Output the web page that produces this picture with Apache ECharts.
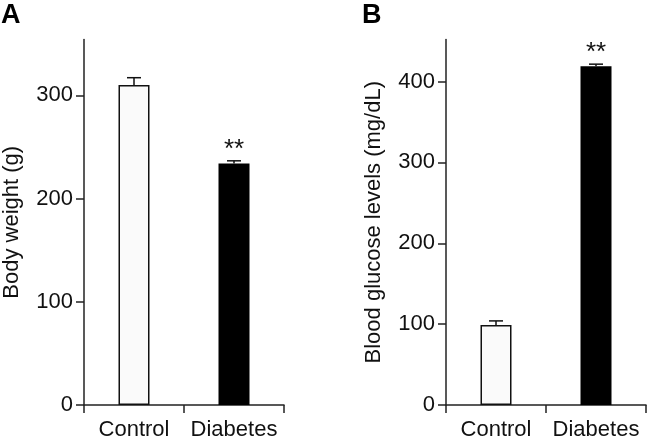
<!DOCTYPE html>
<html>
<head>
<meta charset="utf-8">
<script src="https://cdn.jsdelivr.net/npm/echarts@6/dist/echarts.min.js"></script>
<style>
html,body{margin:0;padding:0;background:#fff;}
#c{width:647px;height:438px;}
</style>
</head>
<body>
<div id="c"></div>
<script>
const categories = ['Control', 'Diabetes'];
const weightMeans = [310, 234];
const weightErrs = [7, 2.5];
const glucoseMeans = [99, 419];
const glucoseErrs = [5, 2.5];
const sigMarks = ['', '**'];
const weightTicks = {min: 0, max: 354, interval: 100};
const glucoseTicks = {min: 0, max: 452, interval: 100};

const FONT = 'Liberation Sans, Arial, sans-serif';
const TXT = '#111';

function xAxisDef(gi) {
  return {
    type: 'category', gridIndex: gi, data: categories, boundaryGap: true,
    axisLine: {show: true, lineStyle: {color: '#222', width: 1.5}},
    axisTick: {show: true, length: 8, lineStyle: {color: '#222', width: 1.5}},
    axisLabel: {color: TXT, fontSize: 22, fontFamily: FONT, margin: 14, interval: 0}
  };
}
function yAxisDef(gi, t, name) {
  return {
    type: 'value', gridIndex: gi, min: t.min, max: t.max, interval: t.interval,
    name: name, nameLocation: 'middle', nameGap: 61,
    nameTextStyle: {color: TXT, fontSize: 22, fontFamily: FONT},
    axisLine: {show: true, lineStyle: {color: '#222', width: 1.5}},
    axisTick: {show: true, length: 8, lineStyle: {color: '#222', width: 1.5}},
    splitLine: {show: false},
    axisLabel: {color: TXT, fontSize: 22, fontFamily: FONT, margin: 11, showMaxLabel: false}
  };
}
function barSeries(gi, vals) {
  return {
    type: 'bar', xAxisIndex: gi, yAxisIndex: gi, barWidth: '31%',
    data: vals.map((v, i) => ({
      value: v,
      itemStyle: i === 0
        ? {color: '#fafafa', borderColor: '#111', borderWidth: 1.5}
        : {color: '#000', borderColor: '#000', borderWidth: 1.5}
    })),
    silent: true, z: 2
  };
}
function errSeries(gi, means, errs) {
  return {
    type: 'custom', xAxisIndex: gi, yAxisIndex: gi, z: 3, silent: true,
    data: means.map((m, i) => [i, m, errs[i]]),
    renderItem: function (params, api) {
      const x = api.value(0), m = api.value(1), e = api.value(2);
      const mark = sigMarks[params.dataIndex];
      const p0 = api.coord([x, m]);
      const p1 = api.coord([x, m + e]);
      const st = {stroke: '#111', lineWidth: 1.5};
      const children = [
        {type: 'line', shape: {x1: p0[0], y1: p0[1], x2: p1[0], y2: p1[1]}, style: st},
        {type: 'line', shape: {x1: p1[0] - 7, y1: p1[1], x2: p1[0] + 7, y2: p1[1]}, style: st}
      ];
      if (mark) {
        children.push({type: 'text', x: p1[0], y: p1[1] - 11,
          style: {text: mark, fill: TXT, fontSize: 26, fontFamily: FONT, align: 'center', verticalAlign: 'middle'}});
      }
      return {type: 'group', children: children};
    }
  };
}

const chart = echarts.init(document.getElementById('c'), null, {renderer: 'canvas'});
chart.setOption({
  backgroundColor: '#fff',
  animation: false,
  graphic: [
    {type: 'text', left: 1, top: 2, style: {text: 'A', fontSize: 27, fontWeight: 'bold', fontFamily: FONT, fill: '#000'}},
    {type: 'text', left: 362, top: 2, style: {text: 'B', fontSize: 27, fontWeight: 'bold', fontFamily: FONT, fill: '#000'}}
  ],
  grid: [
    {left: 84, top: 39.5, width: 200, bottom: 33, outerBoundsMode: 'none', containLabel: false},
    {left: 446, top: 39.5, width: 200, bottom: 33, outerBoundsMode: 'none', containLabel: false}
  ],
  xAxis: [xAxisDef(0), xAxisDef(1)],
  yAxis: [yAxisDef(0, weightTicks, 'Body weight (g)'), yAxisDef(1, glucoseTicks, 'Blood glucose levels (mg/dL)')],
  series: [
    barSeries(0, weightMeans), errSeries(0, weightMeans, weightErrs),
    barSeries(1, glucoseMeans), errSeries(1, glucoseMeans, glucoseErrs)
  ]
});
</script>
</body>
</html>
